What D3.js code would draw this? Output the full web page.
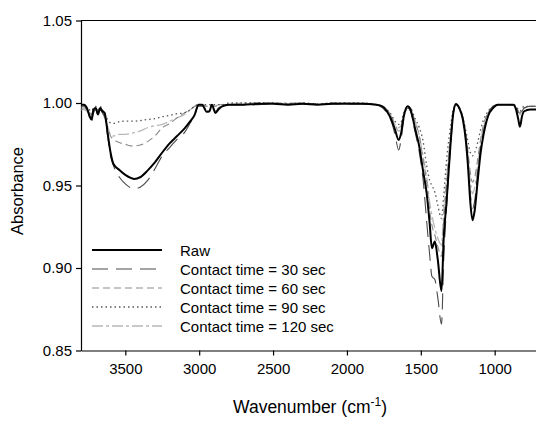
<!DOCTYPE html>
<html>
<head>
<meta charset="utf-8">
<script src="https://cdn.jsdelivr.net/npm/d3@7"></script>
<style>
  html, body { margin: 0; padding: 0; background: #fff; }
  svg text { font-family: "Liberation Sans", Arial, sans-serif; fill: #000; }
</style>
</head>
<body>
<svg id="chart" width="536" height="421"></svg>
<script>
const wavenumbers = [3800,3780,3760,3745,3730,3715,3700,3685,3670,3655,3640,3620,3600,3580,3540,3500,3460,3440,3400,3350,3300,3250,3200,3150,3100,3060,3030,3005,2980,2950,2930,2915,2890,2870,2845,2800,2700,2600,2500,2400,2300,2200,2100,2000,1900,1800,1760,1730,1700,1675,1650,1635,1615,1590,1570,1540,1510,1485,1460,1440,1425,1405,1385,1360,1345,1325,1300,1280,1262,1240,1215,1195,1180,1165,1150,1135,1115,1095,1075,1045,1010,980,920,875,855,840,829,815,800,760,700];

const raw  = [0.999,0.999,0.997,0.993,0.990,0.996,0.997,0.993,0.997,0.995,0.994,0.982,0.970,0.963,0.9594,0.9564,0.9545,0.954,0.955,0.959,0.964,0.970,0.9755,0.980,0.9845,0.989,0.993,0.999,0.999,0.9947,0.995,0.999,0.994,0.996,0.998,0.999,0.999,0.9995,0.9995,0.999,0.9995,0.999,0.9995,0.9995,0.9995,0.999,0.998,0.995,0.990,0.984,0.9776,0.981,0.992,0.998,0.996,0.985,0.9735,0.959,0.945,0.927,0.912,0.916,0.905,0.886,0.918,0.941,0.9735,0.994,0.9994,0.997,0.990,0.977,0.961,0.940,0.929,0.935,0.953,0.970,0.981,0.992,0.997,0.999,0.999,0.999,0.996,0.990,0.9856,0.992,0.995,0.996,0.996];

const t30  = [0.998,0.998,0.996,0.992,0.988,0.994,0.996,0.992,0.996,0.994,0.992,0.980,0.968,0.962,0.955,0.951,0.9485,0.948,0.949,0.953,0.960,0.968,0.973,0.978,0.982,0.988,0.993,0.998,0.998,0.996,0.996,0.999,0.995,0.997,0.998,0.999,0.999,0.999,0.9995,0.999,0.9995,0.9995,0.9995,0.9995,0.9995,0.999,0.997,0.994,0.989,0.981,0.9715,0.977,0.990,0.997,0.995,0.983,0.970,0.954,0.928,0.908,0.895,0.893,0.882,0.866,0.905,0.938,0.972,0.993,0.999,0.997,0.990,0.978,0.962,0.945,0.936,0.941,0.958,0.973,0.983,0.993,0.998,0.999,0.999,0.999,0.997,0.994,0.992,0.995,0.997,0.998,0.998];

const t60  = [0.997,0.997,0.996,0.995,0.993,0.995,0.997,0.995,0.997,0.994,0.991,0.985,0.980,0.978,0.976,0.975,0.974,0.974,0.9745,0.9766,0.980,0.985,0.9875,0.991,0.994,0.996,0.998,0.999,0.999,0.998,0.998,0.999,0.998,0.999,0.999,0.999,0.999,1.0,1.0,0.9995,1.0,0.999,1.0,1.0,0.9995,0.999,0.998,0.996,0.992,0.987,0.983,0.985,0.993,0.998,0.997,0.989,0.980,0.966,0.952,0.935,0.926,0.920,0.913,0.907,0.928,0.952,0.978,0.994,0.999,0.997,0.991,0.981,0.970,0.958,0.952,0.955,0.966,0.978,0.987,0.994,0.998,0.999,0.999,0.999,0.998,0.995,0.994,0.996,0.997,0.998,0.998];

const t90  = [0.996,0.997,0.997,0.996,0.995,0.997,0.998,0.996,0.998,0.996,0.993,0.990,0.988,0.9877,0.9887,0.989,0.989,0.989,0.9893,0.990,0.9905,0.9917,0.9925,0.9935,0.994,0.996,0.998,0.999,0.999,0.999,0.999,0.999,0.999,0.999,0.999,1.0,1.0,1.0,1.0,0.9995,1.0,0.9995,1.0,1.0,1.0,0.999,0.998,0.996,0.993,0.989,0.987,0.988,0.994,0.998,0.997,0.991,0.985,0.977,0.962,0.953,0.950,0.946,0.938,0.930,0.944,0.966,0.985,0.996,0.999,0.997,0.991,0.983,0.976,0.970,0.968,0.970,0.976,0.984,0.990,0.995,0.998,0.999,0.999,0.999,0.998,0.996,0.995,0.997,0.998,0.998,0.998];

const t120 = [0.996,0.996,0.995,0.994,0.993,0.995,0.996,0.995,0.996,0.995,0.992,0.986,0.981,0.980,0.981,0.981,0.9815,0.982,0.983,0.985,0.9862,0.987,0.989,0.991,0.993,0.996,0.998,0.999,0.999,0.998,0.998,0.999,0.998,0.999,0.999,0.999,1.0,1.0,1.0,1.0,1.0,0.999,1.0,1.0,1.0,0.999,0.998,0.996,0.992,0.987,0.985,0.986,0.993,0.998,0.997,0.989,0.980,0.968,0.955,0.940,0.932,0.924,0.918,0.914,0.935,0.955,0.980,0.995,0.999,0.997,0.991,0.980,0.967,0.953,0.945,0.949,0.962,0.976,0.986,0.994,0.998,0.999,0.999,0.999,0.998,0.995,0.993,0.996,0.997,0.998,0.998];

const seriesNames = ["Raw","Contact time = 30 sec","Contact time = 60 sec","Contact time = 90 sec","Contact time = 120 sec"];
const seriesValues = [raw, t30, t60, t90, t120];
const xTicks = [3500,3000,2500,2000,1500,1000];
const yTicks = [0.85,0.90,0.95,1.00,1.05];

const styles = [
  {color:"#000000", width:2,   dash:null},
  {color:"#4a4a4a", width:1.1, dash:"16,8"},
  {color:"#8a8a8a", width:1.1, dash:"7,4"},
  {color:"#555555", width:1.3, dash:"1.5,3"},
  {color:"#b8b8b8", width:1.3, dash:"11,3,3,3"}
];

(function(){
const svg = d3.select("#chart");
const mL = 81, mR = 539, mT = 20.5, mB = 350.5;

const x = d3.scaleLinear().domain([3800,700]).range([mL,mR]);
const y = d3.scaleLinear().domain([0.85,1.05]).range([mB,mT]);

svg.append("line").attr("x1",mL).attr("x2",mR).attr("y1",mT).attr("y2",mT)
  .attr("stroke","#000").attr("stroke-width",1.2);

const yAxis = svg.append("g").attr("transform",`translate(${mL},0)`)
  .call(d3.axisLeft(y).tickValues(yTicks).tickFormat(d3.format(".2f")).tickSize(5).tickSizeOuter(0));
yAxis.selectAll("text").style("font-size","15px").attr("dx","-1px");

const xAxis = svg.append("g").attr("transform",`translate(0,${mB})`)
  .call(d3.axisBottom(x).tickValues(xTicks).tickFormat(d3.format("d")).tickSize(5).tickSizeOuter(0));
xAxis.selectAll("text").style("font-size","15px").attr("dy","1.05em");
svg.selectAll(".domain").attr("stroke","#000").attr("stroke-width",1.2);
svg.selectAll(".tick line").attr("stroke","#000").attr("stroke-width",1.2);

const line = d3.line().x((d,i)=>x(wavenumbers[i])).y(d=>y(d)).curve(d3.curveMonotoneX);
const order = [4,2,3,1,0];
order.forEach(k=>{
  const st = styles[k];
  svg.append("path").datum(seriesValues[k])
    .attr("d",line).attr("fill","none")
    .attr("stroke",st.color).attr("stroke-width",st.width)
    .attr("stroke-dasharray",st.dash)
    .attr("stroke-linejoin","round");
});

const lg = svg.append("g");
seriesNames.forEach((name,i)=>{
  const yy = 250 + i*19;
  const st = styles[i];
  lg.append("line").attr("x1",92).attr("x2",162).attr("y1",yy).attr("y2",yy)
    .attr("stroke",st.color).attr("stroke-width",st.width).attr("stroke-dasharray",st.dash);
  lg.append("text").attr("x",180).attr("y",yy+5.5).style("font-size","15px").text(name);
});

const xt = svg.append("text").attr("x",310).attr("y",413).attr("text-anchor","middle").style("font-size","17.5px");
xt.append("tspan").text("Wavenumber (cm");
xt.append("tspan").attr("dy","-7").style("font-size","12px").text("-1");
xt.append("tspan").attr("dy","7").text(")");

svg.append("text").attr("transform","translate(23,191) rotate(-90)")
  .attr("text-anchor","middle").style("font-size","16.5px").text("Absorbance");
})();
</script>
</body>
</html>
